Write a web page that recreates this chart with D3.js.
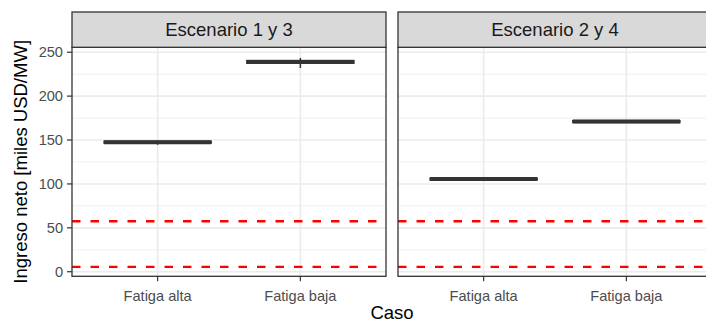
<!DOCTYPE html>
<html>
<head>
<meta charset="utf-8">
<script src="https://cdn.jsdelivr.net/npm/d3@7"></script>
<style>
  body { margin: 0; background: #fff; }
  text { font-family: "Liberation Sans", Arial, sans-serif; }
</style>
</head>
<body>
<svg id="chart"></svg>
<script>
// Facets, categories and box stats
const facets = ["Escenario 1 y 3", "Escenario 2 y 4"];
const casos = ["Fatiga alta", "Fatiga baja"];
// one entry per facet, one value per caso
const minimo  = [[144.5, 232],   [104.5, 170]];
const q1      = [[146.5, 237.5], [104.5, 170]];
const mediana = [[147.5, 239],   [105.5, 171]];
const q3      = [[148.5, 240.5], [106.5, 172]];
const maximo  = [[149.5, 243.5], [106.5, 172]];
const refLines = [57.5, 5.5];
const yTicks = [0, 50, 100, 150, 200, 250];
const yMinor = [25, 75, 125, 175, 225];

const width = 706;
const height = 322;

const svg = d3.select("#chart")
  .attr("width", width)
  .attr("height", height);

// panel geometry
const panelTop = 47.3, panelBottom = 276.3;
const stripTop = 12;
const panelLefts = [72, 398];
const panelW = 314;

const y = d3.scaleLinear()
  .domain([-5.2, 255.6])
  .range([panelBottom, panelTop]);

// y axis ticks + labels (left side only)
const yAxis = svg.append("g");
yAxis.selectAll("line")
  .data(yTicks)
  .enter().append("line")
  .attr("x1", panelLefts[0] - 5).attr("x2", panelLefts[0])
  .attr("y1", d => y(d)).attr("y2", d => y(d))
  .attr("stroke", "#333333").attr("stroke-width", 1.2);
yAxis.selectAll("text")
  .data(yTicks)
  .enter().append("text")
  .attr("x", panelLefts[0] - 9)
  .attr("y", d => y(d))
  .attr("dy", "0.35em")
  .attr("text-anchor", "end")
  .attr("fill", "#4D4D4D")
  .style("font-size", "14.6px")
  .text(d => d);

facets.forEach((facet, fi) => {
  const left = panelLefts[fi];
  const x = d3.scalePoint()
    .domain(casos)
    .range([left, left + panelW])
    .padding(0.6);
  const boxW = x.step() * 0.75;

  const g = svg.append("g");

  // clip to the panel
  const clipId = "clip" + fi;
  svg.append("clipPath").attr("id", clipId)
    .append("rect")
    .attr("x", left).attr("y", panelTop)
    .attr("width", panelW).attr("height", panelBottom - panelTop);
  const inner = g.append("g").attr("clip-path", `url(#${clipId})`);

  // grid
  inner.selectAll(".minor")
    .data(yMinor)
    .enter().append("line")
    .attr("x1", left).attr("x2", left + panelW)
    .attr("y1", d => y(d)).attr("y2", d => y(d))
    .attr("stroke", "#EBEBEB").attr("stroke-width", 0.8);
  inner.selectAll(".major")
    .data(yTicks)
    .enter().append("line")
    .attr("x1", left).attr("x2", left + panelW)
    .attr("y1", d => y(d)).attr("y2", d => y(d))
    .attr("stroke", "#EBEBEB").attr("stroke-width", 1.6);
  inner.selectAll(".xgrid")
    .data(casos)
    .enter().append("line")
    .attr("x1", d => x(d)).attr("x2", d => x(d))
    .attr("y1", panelTop).attr("y2", panelBottom)
    .attr("stroke", "#EBEBEB").attr("stroke-width", 1.6);

  // boxplots
  casos.forEach((c, ci) => {
    const cx = x(c);
    inner.append("line")
      .attr("x1", cx).attr("x2", cx)
      .attr("y1", y(minimo[fi][ci])).attr("y2", y(maximo[fi][ci]))
      .attr("stroke", "#333333").attr("stroke-width", 1.5);
    inner.append("rect")
      .attr("x", cx - boxW / 2)
      .attr("y", y(q3[fi][ci]))
      .attr("width", boxW)
      .attr("height", Math.max(0, y(q1[fi][ci]) - y(q3[fi][ci])))
      .attr("fill", "#fff")
      .attr("stroke", "#333333").attr("stroke-width", 1.5);
    inner.append("line")
      .attr("x1", cx - boxW / 2).attr("x2", cx + boxW / 2)
      .attr("y1", y(mediana[fi][ci])).attr("y2", y(mediana[fi][ci]))
      .attr("stroke", "#333333").attr("stroke-width", 4);
  });

  // reference lines
  inner.selectAll(".ref")
    .data(refLines)
    .enter().append("line")
    .attr("x1", left).attr("x2", left + panelW)
    .attr("y1", d => y(d)).attr("y2", d => y(d))
    .attr("stroke", "#FF0000").attr("stroke-width", 2.3)
    .attr("stroke-dasharray", "8.5,10");

  // panel border
  g.append("rect")
    .attr("x", left).attr("y", panelTop)
    .attr("width", panelW).attr("height", panelBottom - panelTop)
    .attr("fill", "none").attr("stroke", "#333333").attr("stroke-width", 1.3);

  // strip
  g.append("rect")
    .attr("x", left).attr("y", stripTop)
    .attr("width", panelW).attr("height", panelTop - stripTop)
    .attr("fill", "#D9D9D9").attr("stroke", "#333333").attr("stroke-width", 1.3);
  g.append("text")
    .attr("x", left + panelW / 2)
    .attr("y", (stripTop + panelTop) / 2)
    .attr("dy", "0.35em")
    .attr("text-anchor", "middle")
    .attr("fill", "#1A1A1A")
    .style("font-size", "18.5px")
    .text(facet);

  // x axis
  const xAxis = g.append("g");
  xAxis.selectAll("line")
    .data(casos)
    .enter().append("line")
    .attr("x1", d => x(d)).attr("x2", d => x(d))
    .attr("y1", panelBottom).attr("y2", panelBottom + 5)
    .attr("stroke", "#333333").attr("stroke-width", 1.2);
  xAxis.selectAll("text")
    .data(casos)
    .enter().append("text")
    .attr("x", d => x(d))
    .attr("y", 300.5)
    .attr("text-anchor", "middle")
    .attr("fill", "#4D4D4D")
    .style("font-size", "14.6px")
    .text(d => d);
});

// axis titles
svg.append("text")
  .attr("x", (panelLefts[0] + panelLefts[1] + panelW) / 2)
  .attr("y", 319)
  .attr("text-anchor", "middle")
  .attr("fill", "#000")
  .style("font-size", "18.5px")
  .text("Caso");

svg.append("text")
  .attr("transform", `translate(27,${(panelTop + panelBottom) / 2}) rotate(-90)`)
  .attr("text-anchor", "middle")
  .attr("fill", "#000")
  .style("font-size", "18.5px")
  .text("Ingreso neto [miles USD/MW]");
</script>
</body>
</html>
